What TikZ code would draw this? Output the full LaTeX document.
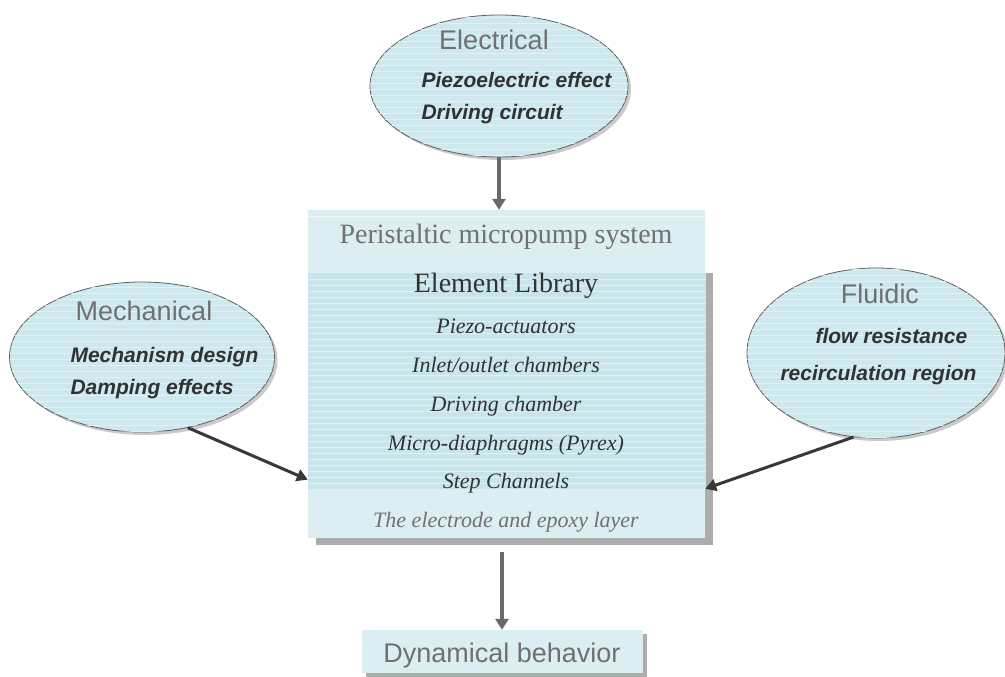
\documentclass[tikz,border=0pt]{standalone}
\usepackage{fontspec}
\setmainfont{Liberation Serif}
\setsansfont{Liberation Sans}
\usetikzlibrary{arrows.meta, positioning, calc, shapes.geometric, shadows, patterns.meta}
\definecolor{PaleCyan}{RGB}{220,238,241}
\definecolor{MidCyan}{RGB}{201,229,234}
\definecolor{BubbleCyan}{RGB}{206,232,237}
\definecolor{ShadowGray}{RGB}{172,172,172}
\definecolor{TextGray}{RGB}{112,112,112}
\definecolor{DarkText}{RGB}{50,50,50}
\definecolor{ArrowGray}{RGB}{105,105,105}

\tikzset{
  bubble/.style={ellipse, draw=gray!75!black, line width=0.8pt, fill=BubbleCyan, inner sep=0pt,
    drop shadow={shadow xshift=3pt, shadow yshift=-3pt, fill=gray!70, opacity=0.6},
    postaction={pattern={Lines[angle=0, distance=6pt, line width=0.5pt]}, pattern color=BubbleCyan!60!white}},
  heading/.style={font=\sffamily\fontsize{27}{30}\selectfont, text=TextGray, anchor=base},
  topic/.style={font=\sffamily\bfseries\itshape\fontsize{21}{24}\selectfont, text=DarkText, anchor=base west},
  part/.style={font=\itshape\fontsize{22}{24}\selectfont, text=DarkText, anchor=base},
  feed/.style={-{Triangle[width=12pt,length=11pt]}, line width=3pt, draw=black!78},
  flow/.style={-{Triangle[width=13pt,length=11pt]}, line width=4.5pt, draw=ArrowGray},
}

\begin{document}
\begin{tikzpicture}[x=1pt, y=-1pt]
    \useasboundingbox (0,0) rectangle (1005,677);
    % Three physical domains
    \node [bubble, minimum width=258pt, minimum height=142pt] (elec) at (499,86) {};
    \node [heading] at (494,50) {Electrical};
    \node [topic] at (418,88) {Piezoelectric effect};
    \node [topic] at (418,120) {Driving circuit};

    \node [bubble, minimum width=265pt, minimum height=150pt] (mech) at (142,357) {};
    \node [heading] at (144,320) {Mechanical};
    \node [topic] at (67,362) {Mechanism design};
    \node [topic] at (67,394) {Damping effects};

    \node [bubble, minimum width=258pt, minimum height=170pt] (fluid) at (876,353) {};
    \node [heading] at (880,303) {Fluidic};
    \node [topic] at (812,343) {flow resistance};
    \node [topic] at (777,380) {recirculation region};

    % System box with the element library
    \fill [ShadowGray] (316,273) rectangle (713,545);
    \node [rectangle, fill=PaleCyan, inner sep=0pt, minimum width=397pt, minimum height=328pt] (pump) at (506.5,374) {};
    \fill [MidCyan] (308,273) rectangle (706,489);
    \foreach \y in {279,285,...,486}
        \draw [white, line width=0.5pt, opacity=0.45] (308,\y) -- (706,\y);
    \draw [white, opacity=0.6] (308,216) -- (706,216);
    \node [font=\fontsize{28}{32}\selectfont, text=TextGray, anchor=base] at (506,243) {Peristaltic micropump system};
    \node [font=\fontsize{28}{32}\selectfont, text=DarkText, anchor=base] at (506,292) {Element Library};
    \node [part] at (506,333) {Piezo-actuators};
    \node [part] at (506,372) {Inlet/outlet chambers};
    \node [part] at (506,411) {Driving chamber};
    \node [part] at (506,450) {Micro-diaphragms (Pyrex)};
    \node [part] at (506,488) {Step Channels};
    \node [part, text=TextGray] at (506,527) {The electrode and epoxy layer};

    % Result
    \node [rectangle, fill=PaleCyan, inner sep=0pt, minimum width=281pt, minimum height=43pt,
        text height=22pt, text depth=0pt, font=\sffamily\fontsize{27}{30}\selectfont, text=TextGray,
        drop shadow={shadow xshift=4pt, shadow yshift=-4pt, fill=ShadowGray, opacity=1}] (dyn) at (502,651.5) {Dynamical behavior};

    % Couplings
    \draw [flow] (elec.south) -- (elec.south |- pump.north);
    \draw [feed] (mech.-57) -- (pump.208);
    \draw [feed] (fluid.255) -- (pump.330);
    \draw [flow, shorten <=14pt] (dyn.north |- pump.south) -- (dyn.north);
\end{tikzpicture}
\end{document}
